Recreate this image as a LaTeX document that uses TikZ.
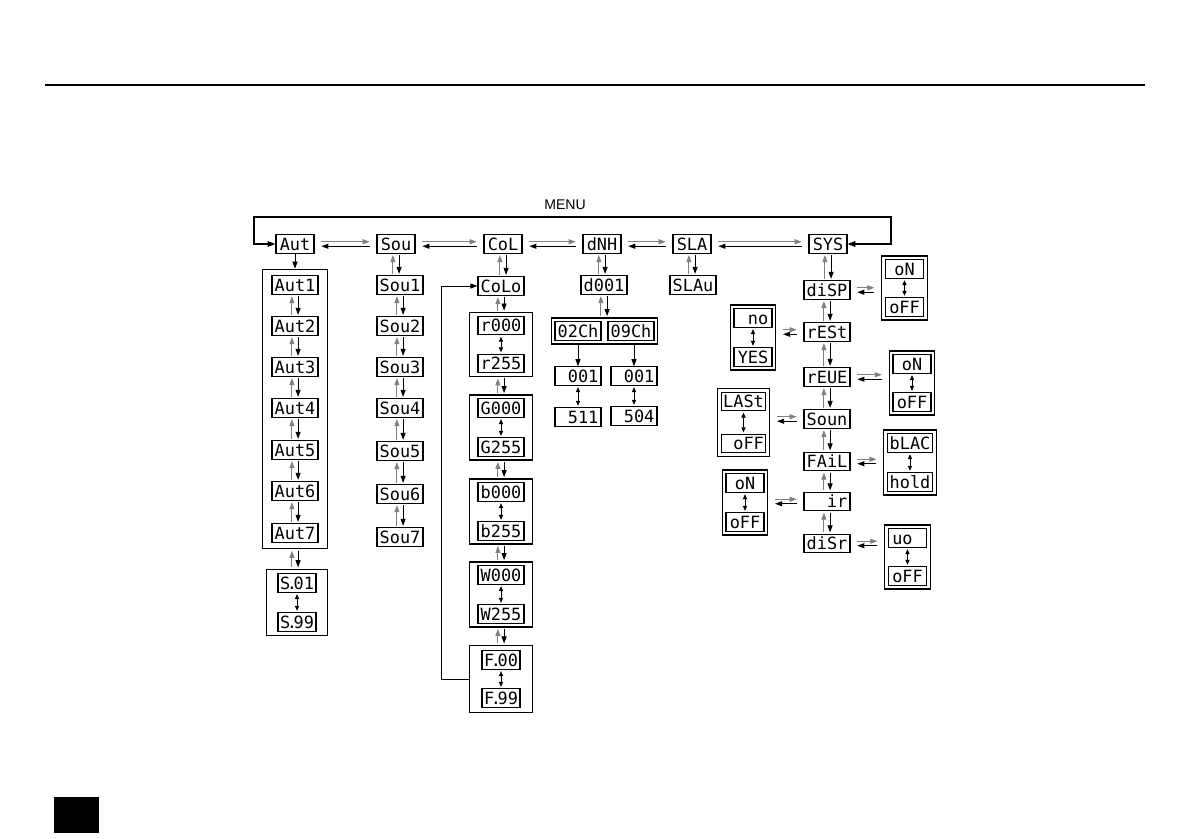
\documentclass[tikz,border=0pt]{standalone}
\usepackage{fontspec}
\setmainfont{Liberation Sans}
\newfontfamily\segfont{DejaVu Sans Mono}
\usetikzlibrary{arrows.meta,fit,calc}
\newcommand{\dotp}{\kern-.2em.\kern-.2em}
\tikzset{
  segtxt/.style={font=\segfont\fontsize{12}{12}\selectfont},
  display/.style={draw,line width=0.8pt,segtxt,minimum height=0.46cm,inner xsep=1.5pt,inner ysep=1pt},
  topbox/.style={display,minimum width=0.95cm},
  itembox/.style={display,minimum width=1.15cm},
  optbox/.style={display,minimum width=0.95cm},
  groupframe/.style={draw,line width=0.8pt},
  arr/.style={line width=0.6pt,-{Triangle[length=5pt,width=3.6pt]}},
  fwd/.style={black!50},
  dblarr/.style={line width=0.6pt,{Triangle[length=3.6pt,width=3pt]}-{Triangle[length=3.6pt,width=3pt]},shorten <=1pt,shorten >=1pt},
  menuloop/.style={line width=0.8pt,{Triangle[length=5.5pt,width=4pt]}-{Triangle[length=5.5pt,width=4pt]}},
  hgap/.style={shorten <=0.17cm,shorten >=0.17cm}
}
% left node, right node, node giving the height
\newcommand{\hpair}[3]{%
  \draw[arr,fwd,hgap] ([yshift=1.6pt]#1.east |- #3) -- ([yshift=1.6pt]#2.west |- #3);
  \draw[arr,hgap] ([yshift=-1.6pt]#2.west |- #3) -- ([yshift=-1.6pt]#1.east |- #3);}
% upper node, lower node
\newcommand{\vpair}[2]{%
  \draw[arr,fwd,shorten <=1pt,shorten >=1pt] ([xshift=-2.2pt]#2.north -| #1) -- ([xshift=-2.2pt]#1.south);
  \draw[arr,shorten <=1pt,shorten >=1pt] ([xshift=2.2pt]#1.south) -- ([xshift=2.2pt]#2.north -| #1);}

\begin{document}
\begin{tikzpicture}[x=0.025cm,y=-0.025cm]
  \useasboundingbox (0,0) rectangle (1191,839);
  \draw[line width=1.4pt] (45,85) -- (1145,85);
  \fill (54,797) rectangle (99,833);

  % main menu
  \node[topbox] (aut) at (295,244) {Aut};
  \node[topbox] (sou) at (396,244) {Sou};
  \node[topbox] (col) at (503,244) {CoL};
  \node[topbox] (dmx) at (602,244) {dNH};
  \node[topbox] (sla) at (692,244) {SLA};
  \node[topbox] (sys) at (828,244) {SYS};
  \hpair{aut}{sou}{aut}
  \hpair{sou}{col}{sou}
  \hpair{col}{dmx}{col}
  \hpair{dmx}{sla}{dmx}
  \hpair{sla}{sys}{sla}
  \node[font=\fontsize{10}{12}\selectfont] (menu) at (565,205) {MENU};
  \coordinate (mtl) at (254,217);
  \coordinate (mtr) at (891,217);
  \draw[menuloop] (aut.west) -| (mtl) -- (mtr) |- (sys.east);

  % auto programs
  \foreach \i/\y in {1/285,2/326,3/367,4/408,5/450,6/491,7/533}
    \node[itembox] (aut\i) at (295,\y) {Aut\i};
  \foreach \a/\b in {1/2,2/3,3/4,4/5,5/6,6/7}
    \vpair{aut\a}{aut\b};
  \node[groupframe,fit=(aut1)(aut7),inner xsep=0.22cm,inner ysep=0.15cm] (autfr) {};
  \draw[arr] (aut.south) -- (autfr.north);
  \node[optbox] (s01) at (297,583) {S\dotp01};
  \node[optbox] (s99) at (297,622) {S\dotp99};
  \draw[dblarr] (s01) -- (s99);
  \node[groupframe,fit=(s01)(s99),inner xsep=0.28cm,inner ysep=0.1cm] (sfr) {};
  \vpair{autfr}{sfr}

  % sound programs
  \foreach \i/\y in {1/285,2/326,3/367,4/408,5/451,6/494,7/537}
    \node[itembox] (sou\i) at (400,\y) {Sou\i};
  \vpair{sou}{sou1}
  \foreach \a/\b in {1/2,2/3,3/4,4/5,5/6,6/7}
    \vpair{sou\a}{sou\b};

  % colours
  \node[itembox] (colo) at (501,286) {CoLo};
  \vpair{col}{colo}
  \foreach \cc/\ya/\yb in {r/325.5/363.5,G/408/447,b/492/531,W/575/614}{
    \node[itembox] (\cc min) at (501,\ya) {\cc000};
    \node[itembox] (\cc max) at (501,\yb) {\cc255};
    \draw[dblarr] (\cc min) -- (\cc max);
    \node[groupframe,fit=(\cc min)(\cc max),inner xsep=0.19cm,inner ysep=0.08cm] (\cc fr) {};
  }
  \node[optbox] (fmin) at (501,660) {F\dotp00};
  \node[optbox] (fmax) at (501,698) {F\dotp99};
  \draw[dblarr] (fmin) -- (fmax);
  \node[groupframe,fit=(fmin)(fmax),inner xsep=0.3cm,inner ysep=0.12cm] (ffr) {};
  \vpair{colo}{rfr}
  \vpair{rfr}{Gfr}
  \vpair{Gfr}{bfr}
  \vpair{bfr}{Wfr}
  \vpair{Wfr}{ffr}
  \draw[arr] (ffr.west) -- ++(-27,0) |- (colo.west);

  % dmx
  \node[itembox] (d001) at (604,285) {d001};
  \vpair{dmx}{d001}
  \node[itembox] (ch02) at (578,331) {02Ch};
  \node[itembox] (ch09) at (631,331) {09Ch};
  \node[groupframe,fit=(ch02)(ch09),inner sep=0.08cm] (chfr) {};
  \vpair{d001}{chfr}
  \node[itembox] (ch02a) at (578,376) {\phantom{0}001};
  \node[itembox] (ch02b) at (578,417) {\phantom{0}511};
  \node[itembox] (ch09a) at (634,376) {\phantom{0}001};
  \node[itembox] (ch09b) at (634,416) {\phantom{0}504};
  \draw[arr] (chfr.south -| ch02a) -- (ch02a.north);
  \draw[arr] (chfr.south -| ch09a) -- (ch09a.north);
  \draw[dblarr] (ch02a) -- (ch02b);
  \draw[dblarr] (ch09a) -- (ch09b);

  % slave
  \node[itembox] (slau) at (693,285) {SLAu};
  \vpair{sla}{slau}

  % system
  \foreach \n/\t/\y in {disp/diSP/290,rest/rESt/332,reue/rEUE/377,soun/Soun/419,fail/FAiL/461.5,ir/{\phantom{00}ir}/501.5,disr/diSr/543.5}
    \node[itembox] (\n) at (827,\y) {\t};
  \vpair{sys}{disp}
  \vpair{disp}{rest}
  \vpair{rest}{reue}
  \vpair{reue}{soun}
  \vpair{soun}{fail}
  \vpair{fail}{ir}
  \vpair{ir}{disr}

  \node[optbox] (dispon) at (904.5,269) {oN};
  \node[optbox] (dispoff) at (904.5,307) {oFF};
  \node[optbox] (restno) at (753,318) {\phantom{0}no};
  \node[optbox] (restyes) at (753,357) {YES};
  \node[optbox] (reueon) at (912,364) {oN};
  \node[optbox] (reueoff) at (912,402) {oFF};
  \node[optbox] (sounlast) at (743.5,401.5) {LASt};
  \node[optbox] (sounoff) at (743.5,443.5) {\phantom{0}oFF};
  \node[optbox] (failblac) at (910,443) {bLAC};
  \node[optbox] (failhold) at (910,482) {hold};
  \node[optbox] (iron) at (745,483) {oN};
  \node[optbox] (iroff) at (745,522) {oFF};
  \node[optbox] (disruo) at (907.5,538) {uo\phantom{0}};
  \node[optbox] (disroff) at (907.5,576) {oFF};
  \foreach \a/\b/\f in {dispon/dispoff/dispfr,restno/restyes/restfr,reueon/reueoff/reuefr,sounlast/sounoff/sounfr,failblac/failhold/failfr,iron/iroff/irfr,disruo/disroff/disrfr}{
    \draw[dblarr] (\a) -- (\b);
    \node[groupframe,fit=(\a)(\b),inner sep=0.08cm] (\f) {};
  }
  \hpair{disp}{dispfr}{disp}
  \hpair{restfr}{rest}{rest}
  \hpair{reue}{reuefr}{reue}
  \hpair{sounfr}{soun}{soun}
  \hpair{fail}{failfr}{fail}
  \hpair{irfr}{ir}{ir}
  \hpair{disr}{disrfr}{disr}
\end{tikzpicture}
\end{document}
